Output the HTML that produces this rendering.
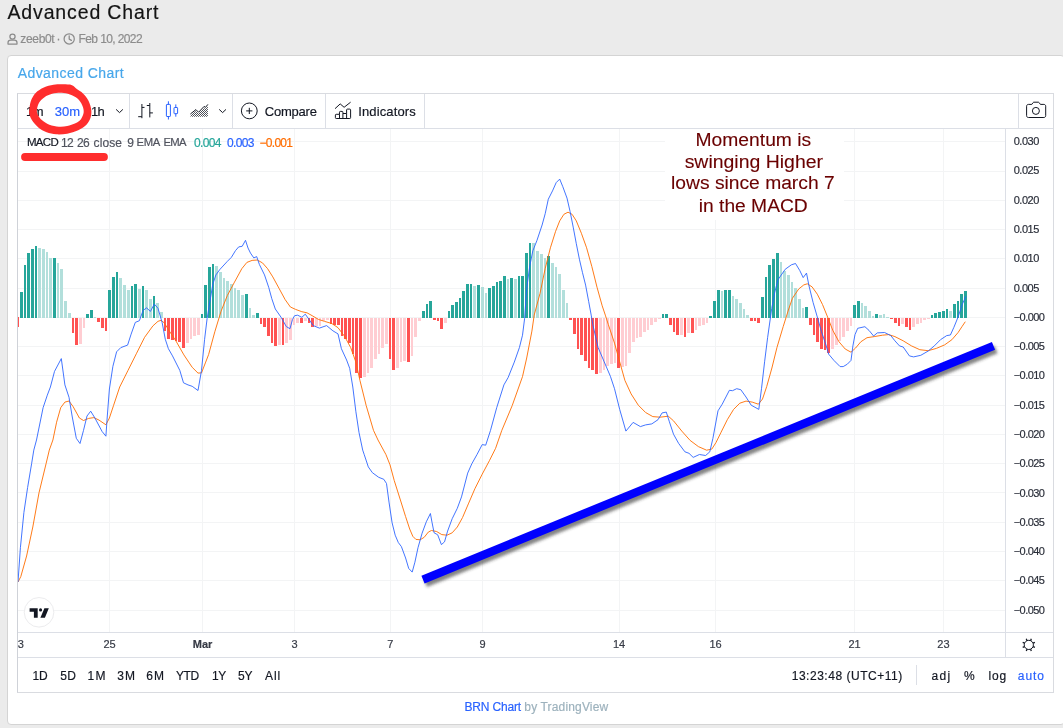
<!DOCTYPE html><html lang="en"><head><meta charset="utf-8"><title>Advanced Chart</title><style>
*{box-sizing:border-box;margin:0;padding:0}
html,body{width:1063px;height:728px;overflow:hidden;background:#ebebeb;font-family:"Liberation Sans",sans-serif}
.t{position:absolute;line-height:1;white-space:nowrap}
.ttl{-webkit-text-stroke:0.3px #141414}
.card{position:absolute;left:7px;top:55px;width:1058px;height:670px;background:#fff;border:1px solid #d4d4d4;border-radius:4px}
.widget{position:absolute;left:17px;top:93px;width:1037px;height:600px;border:1px solid #d9dbe0;border-left-color:#cfd2d8;background:#fff}
.hl{position:absolute;background:#dcdfe6;height:1px}
.vl{position:absolute;background:#dcdfe6;width:1px}
.chart{position:absolute;left:0;top:0}
.t{-webkit-text-stroke:0.18px currentColor}
h1,h2{font-weight:400;font-size:inherit;display:contents}
</style></head><body>
<h1><span class="t ttl" style="left:7.50px;top:3.09px;font-size:19.5px;color:#141414;letter-spacing:0.856px;">Advanced Chart</span></h1>
<span class="t" style="left:20.30px;top:32.74px;font-size:12px;color:#8c8c8c;letter-spacing:-0.330px;">zeeb0t</span>
<span class="t" style="left:56.50px;top:32.74px;font-size:12px;color:#8c8c8c;">·</span>
<span class="t" style="left:78.60px;top:32.74px;font-size:12px;color:#8c8c8c;letter-spacing:-0.613px;">Feb 10, 2022</span>
<div class="card"></div>
<h2><span class="t" style="left:17.70px;top:65.65px;font-size:14px;color:#47a7eb;letter-spacing:0.436px;">Advanced Chart</span></h2>
<div class="widget"></div>
<div class="hl" style="left:18px;top:128px;width:1035px"></div>
<div class="hl" style="left:18px;top:632px;width:1035px"></div>
<div class="hl" style="left:18px;top:657px;width:1035px"></div>
<div class="vl" style="left:1005px;top:129px;height:528px"></div>
<div class="vl" style="left:129px;top:94px;height:34px"></div>
<div class="vl" style="left:232px;top:94px;height:34px"></div>
<div class="vl" style="left:325px;top:94px;height:34px"></div>
<div class="vl" style="left:424px;top:94px;height:34px"></div>
<div class="vl" style="left:1018px;top:94px;height:34px"></div>
<div class="vl" style="left:916px;top:665px;height:20px"></div>
<svg class="chart" width="1063" height="728" viewBox="0 0 1063 728">
<defs><clipPath id="cp"><rect x="18" y="129" width="987" height="503"/></clipPath><filter id="sh" x="-5%" y="-5%" width="110%" height="115%"><feGaussianBlur stdDeviation="1.8"/></filter></defs>
<g clip-path="url(#cp)">
<g stroke="#f3f4f5" stroke-width="1" shape-rendering="crispEdges">
<line x1="109.5" y1="129" x2="109.5" y2="632"/>
<line x1="202.5" y1="129" x2="202.5" y2="632"/>
<line x1="294.5" y1="129" x2="294.5" y2="632"/>
<line x1="390.5" y1="129" x2="390.5" y2="632"/>
<line x1="482.5" y1="129" x2="482.5" y2="632"/>
<line x1="619.5" y1="129" x2="619.5" y2="632"/>
<line x1="715.5" y1="129" x2="715.5" y2="632"/>
<line x1="854.5" y1="129" x2="854.5" y2="632"/>
<line x1="943.5" y1="129" x2="943.5" y2="632"/>
<line x1="18" y1="141.5" x2="1005" y2="141.5"/>
<line x1="18" y1="171.5" x2="1005" y2="171.5"/>
<line x1="18" y1="200.5" x2="1005" y2="200.5"/>
<line x1="18" y1="229.5" x2="1005" y2="229.5"/>
<line x1="18" y1="258.5" x2="1005" y2="258.5"/>
<line x1="18" y1="288.5" x2="1005" y2="288.5"/>
<line x1="18" y1="317.5" x2="1005" y2="317.5"/>
<line x1="18" y1="346.5" x2="1005" y2="346.5"/>
<line x1="18" y1="375.5" x2="1005" y2="375.5"/>
<line x1="18" y1="405.5" x2="1005" y2="405.5"/>
<line x1="18" y1="434.5" x2="1005" y2="434.5"/>
<line x1="18" y1="463.5" x2="1005" y2="463.5"/>
<line x1="18" y1="492.5" x2="1005" y2="492.5"/>
<line x1="18" y1="522.5" x2="1005" y2="522.5"/>
<line x1="18" y1="551.5" x2="1005" y2="551.5"/>
<line x1="18" y1="580.5" x2="1005" y2="580.5"/>
<line x1="18" y1="610.5" x2="1005" y2="610.5"/>
</g>
<rect x="665" y="129" width="179" height="91" fill="#fff"/>
<g shape-rendering="crispEdges">
<rect x="18" y="317" width="1" height="10" fill="#ff5252"/>
<rect x="20" y="292.2" width="3" height="25.3" fill="#26a69a"/>
<rect x="24" y="265.3" width="2" height="52.2" fill="#26a69a"/>
<rect x="27" y="253.3" width="3" height="64.2" fill="#26a69a"/>
<rect x="31" y="249.2" width="3" height="68.3" fill="#26a69a"/>
<rect x="35" y="245.5" width="2" height="72.0" fill="#26a69a"/>
<rect x="38" y="247.5" width="3" height="70.0" fill="#b2dfdb"/>
<rect x="42" y="249.2" width="3" height="68.3" fill="#b2dfdb"/>
<rect x="46" y="251.9" width="2" height="65.6" fill="#b2dfdb"/>
<rect x="49" y="258.1" width="3" height="59.4" fill="#b2dfdb"/>
<rect x="53" y="258.1" width="3" height="59.4" fill="#26a69a"/>
<rect x="57" y="263.3" width="2" height="54.2" fill="#b2dfdb"/>
<rect x="60" y="268.8" width="3" height="48.7" fill="#b2dfdb"/>
<rect x="64" y="300.5" width="3" height="17.0" fill="#b2dfdb"/>
<rect x="68" y="312.7" width="3" height="4.8" fill="#b2dfdb"/>
<rect x="72" y="317.5" width="2" height="15.5" fill="#ff5252"/>
<rect x="75" y="317.5" width="3" height="27.5" fill="#ff5252"/>
<rect x="79" y="317.5" width="3" height="26.5" fill="#ffcdd2"/>
<rect x="83" y="317.5" width="2" height="10.4" fill="#ffcdd2"/>
<rect x="86" y="313.8" width="3" height="3.7" fill="#26a69a"/>
<rect x="90" y="310.3" width="3" height="7.2" fill="#26a69a"/>
<rect x="94" y="316.7" width="2" height="0.8" fill="#b2dfdb"/>
<rect x="97" y="317.5" width="3" height="4.8" fill="#ff5252"/>
<rect x="101" y="317.5" width="3" height="10.4" fill="#ff5252"/>
<rect x="105" y="317.5" width="2" height="13.0" fill="#ff5252"/>
<rect x="108" y="290.2" width="3" height="27.3" fill="#26a69a"/>
<rect x="112" y="277.1" width="3" height="40.4" fill="#26a69a"/>
<rect x="116" y="272.4" width="2" height="45.1" fill="#26a69a"/>
<rect x="119" y="277.7" width="3" height="39.8" fill="#b2dfdb"/>
<rect x="123" y="285.0" width="3" height="32.5" fill="#b2dfdb"/>
<rect x="127" y="290.2" width="3" height="27.3" fill="#b2dfdb"/>
<rect x="131" y="286.0" width="2" height="31.5" fill="#26a69a"/>
<rect x="134" y="284.4" width="3" height="33.1" fill="#26a69a"/>
<rect x="138" y="289.1" width="3" height="28.4" fill="#b2dfdb"/>
<rect x="142" y="286.4" width="2" height="31.1" fill="#26a69a"/>
<rect x="145" y="290.2" width="3" height="27.3" fill="#b2dfdb"/>
<rect x="149" y="299.3" width="3" height="18.2" fill="#b2dfdb"/>
<rect x="153" y="296.4" width="2" height="21.1" fill="#26a69a"/>
<rect x="156" y="303.0" width="3" height="14.5" fill="#b2dfdb"/>
<rect x="160" y="311.9" width="3" height="5.6" fill="#b2dfdb"/>
<rect x="164" y="317.5" width="2" height="13.5" fill="#ff5252"/>
<rect x="167" y="317.5" width="3" height="21.1" fill="#ff5252"/>
<rect x="171" y="317.5" width="3" height="22.8" fill="#ff5252"/>
<rect x="175" y="317.5" width="2" height="23.8" fill="#ff5252"/>
<rect x="178" y="317.5" width="3" height="24.8" fill="#ff5252"/>
<rect x="182" y="317.5" width="3" height="30.0" fill="#ff5252"/>
<rect x="186" y="317.5" width="3" height="25.3" fill="#ffcdd2"/>
<rect x="190" y="317.5" width="2" height="21.1" fill="#ffcdd2"/>
<rect x="193" y="317.5" width="3" height="18.6" fill="#ffcdd2"/>
<rect x="197" y="317.5" width="3" height="17.2" fill="#ffcdd2"/>
<rect x="201" y="313.8" width="2" height="3.7" fill="#26a69a"/>
<rect x="204" y="285.0" width="3" height="32.5" fill="#26a69a"/>
<rect x="208" y="267.4" width="3" height="50.1" fill="#26a69a"/>
<rect x="212" y="264.3" width="2" height="53.2" fill="#26a69a"/>
<rect x="215" y="266.2" width="3" height="51.3" fill="#b2dfdb"/>
<rect x="219" y="272.0" width="3" height="45.5" fill="#b2dfdb"/>
<rect x="223" y="278.2" width="2" height="39.3" fill="#b2dfdb"/>
<rect x="226" y="281.3" width="3" height="36.2" fill="#b2dfdb"/>
<rect x="230" y="284.4" width="3" height="33.1" fill="#b2dfdb"/>
<rect x="234" y="287.7" width="2" height="29.8" fill="#b2dfdb"/>
<rect x="237" y="289.8" width="3" height="27.7" fill="#b2dfdb"/>
<rect x="241" y="295.3" width="3" height="22.2" fill="#b2dfdb"/>
<rect x="245" y="293.9" width="3" height="23.6" fill="#26a69a"/>
<rect x="249" y="308.4" width="2" height="9.1" fill="#b2dfdb"/>
<rect x="252" y="314.6" width="3" height="2.9" fill="#b2dfdb"/>
<rect x="256" y="313.4" width="3" height="4.1" fill="#26a69a"/>
<rect x="260" y="317.5" width="2" height="6.2" fill="#ff5252"/>
<rect x="263" y="317.5" width="3" height="9.9" fill="#ff5252"/>
<rect x="267" y="317.5" width="3" height="18.2" fill="#ff5252"/>
<rect x="271" y="317.5" width="2" height="25.5" fill="#ff5252"/>
<rect x="274" y="317.5" width="3" height="28.2" fill="#ff5252"/>
<rect x="278" y="317.5" width="3" height="27.5" fill="#ffcdd2"/>
<rect x="282" y="317.5" width="2" height="27.1" fill="#ff5252"/>
<rect x="285" y="317.5" width="3" height="25.9" fill="#ffcdd2"/>
<rect x="289" y="317.5" width="3" height="22.4" fill="#ffcdd2"/>
<rect x="293" y="317.5" width="2" height="7.5" fill="#ffcdd2"/>
<rect x="296" y="317.5" width="3" height="5.8" fill="#ffcdd2"/>
<rect x="300" y="317.5" width="3" height="5.8" fill="#ff5252"/>
<rect x="304" y="317.5" width="3" height="3.7" fill="#ffcdd2"/>
<rect x="308" y="317.5" width="2" height="5.8" fill="#ff5252"/>
<rect x="311" y="317.5" width="3" height="9.3" fill="#ff5252"/>
<rect x="315" y="317.5" width="3" height="8.3" fill="#ffcdd2"/>
<rect x="319" y="317.5" width="2" height="8.9" fill="#ffcdd2"/>
<rect x="322" y="317.5" width="3" height="3.7" fill="#ffcdd2"/>
<rect x="326" y="317.5" width="3" height="2.7" fill="#ffcdd2"/>
<rect x="330" y="317.5" width="2" height="6.2" fill="#ff5252"/>
<rect x="333" y="317.5" width="3" height="7.5" fill="#ff5252"/>
<rect x="337" y="317.5" width="3" height="7.9" fill="#ff5252"/>
<rect x="341" y="317.5" width="2" height="18.2" fill="#ff5252"/>
<rect x="344" y="317.5" width="3" height="21.3" fill="#ff5252"/>
<rect x="348" y="317.5" width="3" height="25.5" fill="#ff5252"/>
<rect x="352" y="317.5" width="2" height="36.9" fill="#ff5252"/>
<rect x="355" y="317.5" width="3" height="55.1" fill="#ff5252"/>
<rect x="359" y="317.5" width="3" height="60.7" fill="#ff5252"/>
<rect x="363" y="317.5" width="3" height="59.2" fill="#ffcdd2"/>
<rect x="367" y="317.5" width="2" height="55.5" fill="#ffcdd2"/>
<rect x="370" y="317.5" width="3" height="50.3" fill="#ffcdd2"/>
<rect x="374" y="317.5" width="3" height="41.4" fill="#ffcdd2"/>
<rect x="378" y="317.5" width="2" height="36.2" fill="#ffcdd2"/>
<rect x="381" y="317.5" width="3" height="30.2" fill="#ffcdd2"/>
<rect x="385" y="317.5" width="3" height="26.9" fill="#ffcdd2"/>
<rect x="389" y="317.5" width="2" height="41.4" fill="#ff5252"/>
<rect x="392" y="317.5" width="3" height="52.4" fill="#ff5252"/>
<rect x="396" y="317.5" width="3" height="50.9" fill="#ffcdd2"/>
<rect x="400" y="317.5" width="2" height="44.1" fill="#ffcdd2"/>
<rect x="403" y="317.5" width="3" height="43.1" fill="#ffcdd2"/>
<rect x="407" y="317.5" width="3" height="44.5" fill="#ff5252"/>
<rect x="411" y="317.5" width="2" height="38.5" fill="#ffcdd2"/>
<rect x="414" y="317.5" width="3" height="19.9" fill="#ffcdd2"/>
<rect x="418" y="317.5" width="3" height="3.7" fill="#ffcdd2"/>
<rect x="422" y="310.5" width="3" height="7.0" fill="#26a69a"/>
<rect x="426" y="304.0" width="2" height="13.5" fill="#26a69a"/>
<rect x="429" y="300.5" width="3" height="17.0" fill="#26a69a"/>
<rect x="433" y="317.5" width="3" height="2.1" fill="#ff5252"/>
<rect x="437" y="317.5" width="2" height="3.1" fill="#ff5252"/>
<rect x="440" y="317.5" width="3" height="11.0" fill="#ff5252"/>
<rect x="444" y="317.5" width="3" height="5.2" fill="#ffcdd2"/>
<rect x="448" y="311.3" width="2" height="6.2" fill="#26a69a"/>
<rect x="451" y="305.1" width="3" height="12.4" fill="#26a69a"/>
<rect x="455" y="301.6" width="3" height="15.9" fill="#26a69a"/>
<rect x="459" y="297.8" width="2" height="19.7" fill="#26a69a"/>
<rect x="462" y="290.6" width="3" height="26.9" fill="#26a69a"/>
<rect x="466" y="284.4" width="3" height="33.1" fill="#26a69a"/>
<rect x="470" y="284.4" width="2" height="33.1" fill="#26a69a"/>
<rect x="473" y="286.0" width="3" height="31.5" fill="#b2dfdb"/>
<rect x="477" y="285.4" width="3" height="32.1" fill="#26a69a"/>
<rect x="481" y="287.1" width="3" height="30.4" fill="#b2dfdb"/>
<rect x="485" y="293.3" width="2" height="24.2" fill="#b2dfdb"/>
<rect x="488" y="288.1" width="3" height="29.4" fill="#26a69a"/>
<rect x="492" y="285.6" width="3" height="31.9" fill="#26a69a"/>
<rect x="496" y="281.9" width="2" height="35.6" fill="#26a69a"/>
<rect x="499" y="280.9" width="3" height="36.6" fill="#26a69a"/>
<rect x="503" y="276.3" width="3" height="41.2" fill="#26a69a"/>
<rect x="507" y="279.2" width="2" height="38.3" fill="#b2dfdb"/>
<rect x="510" y="278.2" width="3" height="39.3" fill="#26a69a"/>
<rect x="514" y="279.2" width="3" height="38.3" fill="#b2dfdb"/>
<rect x="518" y="276.3" width="2" height="41.2" fill="#26a69a"/>
<rect x="521" y="276.3" width="3" height="41.2" fill="#26a69a"/>
<rect x="525" y="252.9" width="3" height="64.6" fill="#26a69a"/>
<rect x="529" y="242.6" width="2" height="74.9" fill="#26a69a"/>
<rect x="532" y="243.2" width="3" height="74.3" fill="#b2dfdb"/>
<rect x="536" y="251.2" width="3" height="66.3" fill="#b2dfdb"/>
<rect x="540" y="253.9" width="3" height="63.6" fill="#b2dfdb"/>
<rect x="544" y="257.7" width="2" height="59.8" fill="#b2dfdb"/>
<rect x="547" y="255.6" width="3" height="61.9" fill="#26a69a"/>
<rect x="551" y="262.8" width="3" height="54.7" fill="#b2dfdb"/>
<rect x="555" y="266.8" width="2" height="50.7" fill="#b2dfdb"/>
<rect x="558" y="273.6" width="3" height="43.9" fill="#b2dfdb"/>
<rect x="562" y="289.8" width="3" height="27.7" fill="#b2dfdb"/>
<rect x="566" y="303.2" width="2" height="14.3" fill="#b2dfdb"/>
<rect x="569" y="317.5" width="3" height="2.1" fill="#ff5252"/>
<rect x="573" y="317.5" width="3" height="16.1" fill="#ff5252"/>
<rect x="577" y="317.5" width="2" height="31.7" fill="#ff5252"/>
<rect x="580" y="317.5" width="3" height="37.9" fill="#ff5252"/>
<rect x="584" y="317.5" width="3" height="43.5" fill="#ff5252"/>
<rect x="588" y="317.5" width="2" height="50.3" fill="#ff5252"/>
<rect x="591" y="317.5" width="3" height="52.4" fill="#ff5252"/>
<rect x="595" y="317.5" width="3" height="56.5" fill="#ff5252"/>
<rect x="599" y="317.5" width="3" height="55.5" fill="#ffcdd2"/>
<rect x="603" y="317.5" width="2" height="52.4" fill="#ffcdd2"/>
<rect x="606" y="317.5" width="3" height="48.2" fill="#ffcdd2"/>
<rect x="610" y="317.5" width="3" height="46.2" fill="#ffcdd2"/>
<rect x="614" y="317.5" width="2" height="45.1" fill="#ffcdd2"/>
<rect x="617" y="317.5" width="3" height="50.3" fill="#ff5252"/>
<rect x="621" y="317.5" width="3" height="49.3" fill="#ffcdd2"/>
<rect x="625" y="317.5" width="2" height="48.2" fill="#ffcdd2"/>
<rect x="628" y="317.5" width="3" height="35.2" fill="#ffcdd2"/>
<rect x="632" y="317.5" width="3" height="24.4" fill="#ffcdd2"/>
<rect x="636" y="317.5" width="2" height="20.9" fill="#ffcdd2"/>
<rect x="639" y="317.5" width="3" height="19.3" fill="#ffcdd2"/>
<rect x="643" y="317.5" width="3" height="14.5" fill="#ffcdd2"/>
<rect x="647" y="317.5" width="2" height="12.0" fill="#ffcdd2"/>
<rect x="650" y="317.5" width="3" height="7.9" fill="#ffcdd2"/>
<rect x="654" y="317.5" width="3" height="4.3" fill="#ffcdd2"/>
<rect x="658" y="317.5" width="3" height="1.7" fill="#ffcdd2"/>
<rect x="662" y="313.6" width="2" height="3.9" fill="#26a69a"/>
<rect x="665" y="313.6" width="3" height="3.9" fill="#26a69a"/>
<rect x="669" y="317.5" width="3" height="7.5" fill="#ff5252"/>
<rect x="673" y="317.5" width="2" height="14.5" fill="#ff5252"/>
<rect x="676" y="317.5" width="3" height="17.2" fill="#ff5252"/>
<rect x="680" y="317.5" width="3" height="17.2" fill="#ffcdd2"/>
<rect x="684" y="317.5" width="2" height="19.3" fill="#ff5252"/>
<rect x="687" y="317.5" width="3" height="15.7" fill="#ffcdd2"/>
<rect x="691" y="317.5" width="3" height="15.1" fill="#ff5252"/>
<rect x="695" y="317.5" width="2" height="12.0" fill="#ffcdd2"/>
<rect x="698" y="317.5" width="3" height="8.9" fill="#ffcdd2"/>
<rect x="702" y="317.5" width="3" height="7.2" fill="#ffcdd2"/>
<rect x="706" y="317.5" width="2" height="5.4" fill="#ffcdd2"/>
<rect x="709" y="316.3" width="3" height="1.2" fill="#26a69a"/>
<rect x="713" y="300.5" width="3" height="17.0" fill="#26a69a"/>
<rect x="717" y="289.5" width="3" height="28.0" fill="#26a69a"/>
<rect x="721" y="290.6" width="2" height="26.9" fill="#b2dfdb"/>
<rect x="724" y="289.5" width="3" height="28.0" fill="#26a69a"/>
<rect x="728" y="289.5" width="3" height="28.0" fill="#26a69a"/>
<rect x="732" y="296.0" width="2" height="21.5" fill="#b2dfdb"/>
<rect x="735" y="298.5" width="3" height="19.0" fill="#b2dfdb"/>
<rect x="739" y="303.2" width="3" height="14.3" fill="#b2dfdb"/>
<rect x="743" y="309.4" width="2" height="8.1" fill="#b2dfdb"/>
<rect x="746" y="314.6" width="3" height="2.9" fill="#b2dfdb"/>
<rect x="750" y="317.5" width="3" height="3.1" fill="#ff5252"/>
<rect x="754" y="317.5" width="2" height="3.7" fill="#ff5252"/>
<rect x="757" y="317.5" width="3" height="5.8" fill="#ff5252"/>
<rect x="761" y="297.4" width="3" height="20.1" fill="#26a69a"/>
<rect x="765" y="277.3" width="2" height="40.2" fill="#26a69a"/>
<rect x="768" y="265.3" width="3" height="52.2" fill="#26a69a"/>
<rect x="772" y="258.5" width="3" height="59.0" fill="#26a69a"/>
<rect x="776" y="252.9" width="3" height="64.6" fill="#26a69a"/>
<rect x="780" y="261.8" width="2" height="55.7" fill="#b2dfdb"/>
<rect x="783" y="270.5" width="3" height="47.0" fill="#b2dfdb"/>
<rect x="787" y="275.3" width="3" height="42.2" fill="#b2dfdb"/>
<rect x="791" y="281.5" width="2" height="36.0" fill="#b2dfdb"/>
<rect x="794" y="287.7" width="3" height="29.8" fill="#b2dfdb"/>
<rect x="798" y="298.5" width="3" height="19.0" fill="#b2dfdb"/>
<rect x="802" y="308.4" width="2" height="9.1" fill="#b2dfdb"/>
<rect x="805" y="306.7" width="3" height="10.8" fill="#26a69a"/>
<rect x="809" y="317.5" width="3" height="7.2" fill="#ff5252"/>
<rect x="813" y="317.5" width="2" height="17.2" fill="#ff5252"/>
<rect x="816" y="317.5" width="3" height="24.4" fill="#ff5252"/>
<rect x="820" y="317.5" width="3" height="31.7" fill="#ff5252"/>
<rect x="824" y="317.5" width="2" height="32.7" fill="#ff5252"/>
<rect x="827" y="317.5" width="3" height="35.2" fill="#ff5252"/>
<rect x="831" y="317.5" width="3" height="31.7" fill="#ffcdd2"/>
<rect x="835" y="317.5" width="3" height="27.5" fill="#ffcdd2"/>
<rect x="839" y="317.5" width="2" height="23.4" fill="#ffcdd2"/>
<rect x="842" y="317.5" width="3" height="19.9" fill="#ffcdd2"/>
<rect x="846" y="317.5" width="3" height="13.5" fill="#ffcdd2"/>
<rect x="850" y="317.5" width="2" height="8.9" fill="#ffcdd2"/>
<rect x="853" y="305.1" width="3" height="12.4" fill="#26a69a"/>
<rect x="857" y="300.5" width="3" height="17.0" fill="#26a69a"/>
<rect x="861" y="303.2" width="2" height="14.3" fill="#b2dfdb"/>
<rect x="864" y="305.7" width="3" height="11.8" fill="#b2dfdb"/>
<rect x="868" y="311.3" width="3" height="6.2" fill="#b2dfdb"/>
<rect x="872" y="316.1" width="2" height="1.4" fill="#b2dfdb"/>
<rect x="875" y="314.4" width="3" height="3.1" fill="#26a69a"/>
<rect x="879" y="314.6" width="3" height="2.9" fill="#b2dfdb"/>
<rect x="883" y="314.4" width="2" height="3.1" fill="#b2dfdb"/>
<rect x="886" y="316.7" width="3" height="0.8" fill="#b2dfdb"/>
<rect x="890" y="317.5" width="3" height="1.7" fill="#ff5252"/>
<rect x="894" y="317.5" width="3" height="5.2" fill="#ff5252"/>
<rect x="898" y="317.5" width="2" height="8.5" fill="#ff5252"/>
<rect x="901" y="317.5" width="3" height="6.2" fill="#ffcdd2"/>
<rect x="905" y="317.5" width="3" height="9.5" fill="#ff5252"/>
<rect x="909" y="317.5" width="2" height="12.4" fill="#ff5252"/>
<rect x="912" y="317.5" width="3" height="9.9" fill="#ffcdd2"/>
<rect x="916" y="317.5" width="3" height="6.8" fill="#ffcdd2"/>
<rect x="920" y="317.5" width="2" height="5.2" fill="#ffcdd2"/>
<rect x="923" y="317.5" width="3" height="2.7" fill="#ffcdd2"/>
<rect x="927" y="317.5" width="3" height="1.0" fill="#ffcdd2"/>
<rect x="931" y="315.4" width="2" height="2.1" fill="#26a69a"/>
<rect x="934" y="313.4" width="3" height="4.1" fill="#26a69a"/>
<rect x="938" y="311.5" width="3" height="6.0" fill="#26a69a"/>
<rect x="942" y="310.5" width="3" height="7.0" fill="#26a69a"/>
<rect x="946" y="309.4" width="2" height="8.1" fill="#26a69a"/>
<rect x="949" y="310.5" width="3" height="7.0" fill="#b2dfdb"/>
<rect x="953" y="304.0" width="3" height="13.5" fill="#26a69a"/>
<rect x="957" y="300.5" width="2" height="17.0" fill="#26a69a"/>
<rect x="960" y="294.3" width="3" height="23.2" fill="#26a69a"/>
<rect x="964" y="291.4" width="3" height="26.1" fill="#26a69a"/>
</g>
<polyline points="18.0,582.0 20.8,576.6 26.6,556.0 32.8,527.0 39.0,492.8 46.2,463.2 49.3,450.1 52.9,440.0 56.6,422.2 60.7,407.7 64.9,402.1 69.0,401.0 73.1,406.6 79.4,418.0 83.5,420.5 88.7,418.4 93.9,417.6 99.0,420.1 105.9,424.8 109.4,418.0 113.5,405.6 119.7,387.0 128.0,370.4 136.3,353.8 144.6,337.3 152.9,325.9 158.0,321.3 161.1,320.3 164.2,322.8 169.4,331.1 175.6,340.4 183.9,354.9 192.2,367.3 198.0,373.1 201.5,372.9 205.7,362.1 208.6,354.6 214.8,331.8 221.1,311.1 227.3,295.6 234.5,282.1 241.8,268.7 246.9,262.4 252.1,260.4 257.3,260.0 262.5,262.9 267.6,268.7 272.8,276.9 279.0,288.3 285.2,299.7 290.4,307.0 295.6,309.4 301.8,311.7 307.0,312.8 312.2,315.7 318.4,319.4 324.6,321.4 331.8,323.5 338.0,327.7 344.5,336.2 350.7,347.6 355.9,362.1 360.0,380.7 366.2,405.6 373.5,430.4 378.0,440.0 385.9,454.5 390.0,464.8 394.2,480.4 400.4,500.0 405.6,516.6 409.7,529.0 412.8,536.3 415.9,539.4 420.1,539.8 424.2,537.3 428.3,532.1 431.4,530.5 436.6,531.5 441.8,534.6 447.0,535.2 452.2,532.8 457.3,527.0 462.5,517.6 468.7,503.1 474.9,488.7 482.2,474.2 489.4,460.7 495.6,448.3 501.8,430.4 512.2,405.6 522.5,376.6 526.7,358.0 531.9,331.1 534.2,315.1 540.0,293.4 545.2,268.5 550.4,247.8 555.6,231.3 559.7,220.9 563.9,214.3 568.0,212.2 572.1,214.3 576.3,220.9 581.4,233.3 586.6,247.8 591.8,266.4 597.0,287.2 602.2,305.8 605.3,315.1 608.3,324.5 614.5,343.1 619.7,361.8 624.9,380.4 631.1,393.9 638.3,405.2 645.6,412.5 652.8,416.6 660.1,417.2 668.3,416.2 673.5,420.8 681.8,431.1 690.1,440.4 698.4,446.6 706.6,450.2 711.8,449.1 716.0,442.5 721.1,432.2 727.3,419.7 733.6,409.4 739.8,403.2 746.0,401.1 752.2,402.1 758.4,404.2 762.5,399.0 766.7,386.6 771.9,368.0 777.0,347.3 783.2,326.6 788.4,310.0 792.4,298.3 798.7,289.0 803.8,284.9 807.3,283.8 812.1,286.9 817.3,294.2 822.5,304.5 827.6,317.0 832.8,330.4 839.0,341.8 845.2,349.0 851.0,352.2 855.6,348.0 860.8,341.8 867.0,337.7 874.2,336.6 882.5,335.2 888.7,334.6 894.9,336.6 903.2,340.8 911.5,345.9 919.8,349.7 928.1,350.7 936.3,348.4 944.6,344.9 951.9,339.7 958.1,332.5 962.2,326.3 965.3,321.7" fill="none" stroke="#ff6d00" stroke-width="1" stroke-opacity="0.9" stroke-linejoin="round"/>
<polyline points="18.0,582.0 20.4,547.7 23.9,512.5 27.6,487.6 31.7,463.2 33.8,450.1 36.5,440.0 43.1,407.7 47.3,395.2 50.4,387.0 54.5,371.4 61.3,358.6 64.9,384.9 69.0,397.3 72.1,416.0 76.3,438.3 80.0,443.5 83.5,430.4 87.0,416.0 90.7,411.2 94.9,418.0 102.1,431.5 105.9,436.2 107.3,416.0 109.4,389.0 112.9,366.3 116.6,351.8 120.8,347.6 127.6,345.1 131.1,334.2 135.3,322.4 139.4,320.7 143.1,310.4 146.6,307.9 150.4,311.4 154.3,304.1 158.0,308.3 162.2,322.8 165.3,339.3 168.4,348.7 172.5,355.9 179.8,370.4 183.5,382.8 188.0,384.9 192.2,386.3 198.0,390.5 201.5,370.4 204.6,339.3 207.1,318.6 209.7,302.8 212.8,284.2 215.9,274.9 220.0,269.3 227.3,261.4 231.4,257.3 235.5,250.6 238.7,246.9 242.2,246.3 245.5,240.3 248.0,248.0 250.5,253.1 253.8,257.9 256.7,256.6 259.4,264.5 264.5,274.9 268.7,287.3 271.8,298.7 275.3,309.0 281.1,317.3 286.3,326.6 290.0,328.7 292.5,319.4 294.6,315.7 297.7,315.2 301.8,317.3 305.3,314.2 309.0,319.4 313.2,325.6 319.4,328.1 326.6,325.6 332.9,330.8 338.0,333.9 341.4,348.7 346.6,360.0 349.7,368.3 352.8,387.0 355.9,411.8 359.0,432.5 362.7,450.1 364.2,454.5 368.3,466.9 372.4,472.7 378.7,477.3 383.8,479.3 386.5,483.5 389.0,502.1 392.1,522.8 395.2,535.2 398.3,542.5 401.4,546.6 405.6,558.0 408.7,568.4 412.2,572.1 414.9,562.2 418.0,547.7 422.1,533.2 426.3,521.8 430.4,513.5 432.1,522.8 434.1,532.8 437.7,534.8 441.4,544.6 444.5,541.9 447.6,531.1 452.2,518.7 457.3,508.3 461.5,496.9 467.7,473.1 471.8,463.8 477.0,454.5 482.2,444.6 485.7,445.2 490.5,430.4 496.7,407.7 503.9,384.9 508.1,377.6 514.3,362.1 519.4,347.6 522.5,335.2 524.6,318.6 526.6,289.2 529.7,266.4 532.8,250.9 536.9,240.6 542.1,225.0 545.2,213.7 548.3,199.2 552.5,190.9 556.2,182.6 559.7,179.1 562.8,186.7 567.0,198.1 570.1,211.6 573.2,227.1 576.3,243.7 579.4,259.2 582.5,272.7 585.6,285.1 588.7,301.6 591.2,315.1 592.8,324.5 598.0,347.3 604.2,361.8 610.4,376.3 614.5,388.7 619.7,409.4 625.9,431.1 633.1,422.4 640.4,426.6 645.6,424.9 651.8,423.9 658.0,419.7 662.1,412.9 666.3,412.1 669.4,421.8 673.5,434.2 678.7,443.5 684.9,451.8 689.0,453.3 693.2,457.4 699.4,454.5 705.6,455.5 709.8,451.8 712.9,438.4 718.0,410.8 722.2,404.2 729.4,390.3 732.5,390.7 736.7,388.7 740.8,389.7 746.0,397.0 751.2,405.2 758.8,409.4 761.5,388.7 764.6,361.8 767.6,337.7 771.7,308.7 774.8,292.1 778.0,279.7 785.2,269.3 791.4,264.8 795.5,263.5 799.7,270.4 803.2,277.6 806.5,273.1 809.0,285.9 813.1,302.5 817.3,317.0 821.4,331.4 825.6,343.9 828.7,354.2 833.9,360.4 840.1,366.6 843.2,366.6 847.3,364.2 851.0,360.4 852.9,345.9 855.0,334.6 857.7,328.3 864.9,326.7 869.0,330.4 873.6,336.0 877.3,332.9 884.6,332.5 890.8,335.6 894.9,340.8 899.5,345.9 903.2,347.0 909.4,355.9 913.6,356.9 920.8,355.3 928.1,351.1 934.3,345.9 940.5,339.7 946.7,335.6 950.4,335.0 953.9,327.3 958.1,317.0 962.2,304.5 965.9,296.3" fill="none" stroke="#2962ff" stroke-width="1" stroke-opacity="0.88" stroke-linejoin="round"/>
<line x1="425.5" y1="583.2" x2="996" y2="349.5" stroke="#333" stroke-opacity="0.6" stroke-width="8.3" filter="url(#sh)"/>
<line x1="423" y1="579.55" x2="993.5" y2="345.85" stroke="#0000ff" stroke-width="8.3"/>
</g>
</svg>
<span class="t" style="left:26.00px;top:104.50px;font-size:13px;color:#131722;letter-spacing:-0.389px;">1m</span>
<span class="t" style="left:54.80px;top:104.50px;font-size:13px;color:#2962ff;letter-spacing:-0.010px;">30m</span>
<span class="t" style="left:91.10px;top:104.50px;font-size:13px;color:#131722;letter-spacing:-0.700px;">1h</span>
<span class="t" style="left:264.70px;top:104.90px;font-size:13px;color:#131722;letter-spacing:-0.199px;">Compare</span>
<span class="t" style="left:358.20px;top:104.90px;font-size:13px;color:#131722;letter-spacing:0.134px;">Indicators</span>
<span class="t" style="left:26.99px;top:136.97px;font-size:11.5px;color:#131722;letter-spacing:-0.700px;">MACD</span>
<span class="t" style="left:60.92px;top:136.54px;font-size:12px;color:#50535e;letter-spacing:-0.700px;">12</span>
<span class="t" style="left:77.02px;top:136.54px;font-size:12px;color:#50535e;letter-spacing:-0.700px;">26</span>
<span class="t" style="left:93.60px;top:136.54px;font-size:12px;color:#50535e;letter-spacing:0.067px;">close</span>
<span class="t" style="left:127.30px;top:136.54px;font-size:12px;color:#50535e;">9</span>
<span class="t" style="left:136.60px;top:137.13px;font-size:11.3px;color:#50535e;letter-spacing:-0.385px;">EMA</span>
<span class="t" style="left:163.40px;top:137.13px;font-size:11.3px;color:#50535e;letter-spacing:-0.635px;">EMA</span>
<span class="t" style="left:194.10px;top:136.54px;font-size:12px;color:#26a69a;letter-spacing:-0.662px;">0.004</span>
<span class="t" style="left:227.00px;top:136.54px;font-size:12px;color:#2962ff;letter-spacing:-0.662px;">0.003</span>
<span class="t" style="left:259.47px;top:136.54px;font-size:12px;color:#ff6d00;letter-spacing:-0.700px;">−0.001</span>
<span class="t" style="left:1013.70px;top:136.09px;font-size:11px;color:#2a2e39;letter-spacing:-0.459px;">0.030</span>
<span class="t" style="left:1013.70px;top:165.38px;font-size:11px;color:#2a2e39;letter-spacing:-0.459px;">0.025</span>
<span class="t" style="left:1013.70px;top:194.67px;font-size:11px;color:#2a2e39;letter-spacing:-0.459px;">0.020</span>
<span class="t" style="left:1013.70px;top:223.96px;font-size:11px;color:#2a2e39;letter-spacing:-0.459px;">0.015</span>
<span class="t" style="left:1013.70px;top:253.25px;font-size:11px;color:#2a2e39;letter-spacing:-0.459px;">0.010</span>
<span class="t" style="left:1013.70px;top:282.54px;font-size:11px;color:#2a2e39;letter-spacing:-0.459px;">0.005</span>
<span class="t" style="left:1013.70px;top:311.83px;font-size:11px;color:#2a2e39;letter-spacing:-0.552px;">−0.000</span>
<span class="t" style="left:1013.70px;top:341.12px;font-size:11px;color:#2a2e39;letter-spacing:-0.552px;">−0.005</span>
<span class="t" style="left:1013.70px;top:370.41px;font-size:11px;color:#2a2e39;letter-spacing:-0.552px;">−0.010</span>
<span class="t" style="left:1013.70px;top:399.70px;font-size:11px;color:#2a2e39;letter-spacing:-0.552px;">−0.015</span>
<span class="t" style="left:1013.70px;top:428.99px;font-size:11px;color:#2a2e39;letter-spacing:-0.552px;">−0.020</span>
<span class="t" style="left:1013.70px;top:458.28px;font-size:11px;color:#2a2e39;letter-spacing:-0.552px;">−0.025</span>
<span class="t" style="left:1013.70px;top:487.57px;font-size:11px;color:#2a2e39;letter-spacing:-0.552px;">−0.030</span>
<span class="t" style="left:1013.70px;top:516.86px;font-size:11px;color:#2a2e39;letter-spacing:-0.552px;">−0.035</span>
<span class="t" style="left:1013.70px;top:546.15px;font-size:11px;color:#2a2e39;letter-spacing:-0.552px;">−0.040</span>
<span class="t" style="left:1013.70px;top:575.44px;font-size:11px;color:#2a2e39;letter-spacing:-0.552px;">−0.045</span>
<span class="t" style="left:1013.70px;top:604.73px;font-size:11px;color:#2a2e39;letter-spacing:-0.552px;">−0.050</span>
<span class="t" style="left:103.48px;top:638.69px;font-size:11px;color:#363a45;">25</span>
<span class="t" style="left:192.72px;top:638.69px;font-size:11px;color:#363a45;font-weight:700;">Mar</span>
<span class="t" style="left:291.54px;top:638.69px;font-size:11px;color:#363a45;">3</span>
<span class="t" style="left:387.34px;top:638.69px;font-size:11px;color:#363a45;">7</span>
<span class="t" style="left:479.44px;top:638.69px;font-size:11px;color:#363a45;">9</span>
<span class="t" style="left:612.98px;top:638.69px;font-size:11px;color:#363a45;">14</span>
<span class="t" style="left:709.48px;top:638.69px;font-size:11px;color:#363a45;">16</span>
<span class="t" style="left:848.48px;top:638.69px;font-size:11px;color:#363a45;">21</span>
<span class="t" style="left:937.28px;top:638.69px;font-size:11px;color:#363a45;">23</span>
<span class="t" style="left:17.80px;top:638.69px;font-size:11px;color:#363a45;">3</span>
<span class="t" style="left:32.60px;top:669.64px;font-size:12px;color:#131722;letter-spacing:-0.260px;">1D</span>
<span class="t" style="left:60.30px;top:669.64px;font-size:12px;color:#131722;letter-spacing:0.240px;">5D</span>
<span class="t" style="left:87.50px;top:669.64px;font-size:12px;color:#131722;letter-spacing:1.210px;">1M</span>
<span class="t" style="left:117.30px;top:669.64px;font-size:12px;color:#131722;letter-spacing:0.910px;">3M</span>
<span class="t" style="left:146.20px;top:669.64px;font-size:12px;color:#131722;letter-spacing:1.210px;">6M</span>
<span class="t" style="left:176.00px;top:669.64px;font-size:12px;color:#131722;letter-spacing:-0.460px;">YTD</span>
<span class="t" style="left:212.00px;top:669.64px;font-size:12px;color:#131722;letter-spacing:-0.398px;">1Y</span>
<span class="t" style="left:238.00px;top:669.64px;font-size:12px;color:#131722;letter-spacing:-0.198px;">5Y</span>
<span class="t" style="left:265.00px;top:669.64px;font-size:12px;color:#131722;letter-spacing:0.872px;">All</span>
<span class="t" style="left:791.70px;top:669.64px;font-size:12px;color:#131722;letter-spacing:0.526px;">13:23:48 (UTC+11)</span>
<span class="t" style="left:931.40px;top:669.64px;font-size:12px;color:#131722;letter-spacing:1.383px;">adj</span>
<span class="t" style="left:964.00px;top:669.64px;font-size:12px;color:#131722;">%</span>
<span class="t" style="left:988.50px;top:669.64px;font-size:12px;color:#131722;letter-spacing:0.783px;">log</span>
<span class="t" style="left:1017.80px;top:669.64px;font-size:12px;color:#2962ff;letter-spacing:0.941px;">auto</span>
<span class="t" style="left:464.50px;top:701.44px;font-size:12px;color:#2962ff;letter-spacing:-0.179px;">BRN Chart</span>
<span class="t" style="left:524.30px;top:701.44px;font-size:12px;color:#9db2bd;letter-spacing:0.158px;">by TradingView</span>
<span class="t an" style="left:697.24px;top:130.79px;font-size:18.8px;color:#6a0000;-webkit-text-stroke:0.12px #6a0000;transform:scaleX(1.0255);transform-origin:50% 50%">Momentum is</span>
<span class="t an" style="left:686.87px;top:152.79px;font-size:18.8px;color:#6a0000;-webkit-text-stroke:0.12px #6a0000;transform:scaleX(1.0355);transform-origin:50% 50%">swinging Higher</span>
<span class="t an" style="left:672.92px;top:174.29px;font-size:18.8px;color:#6a0000;-webkit-text-stroke:0.12px #6a0000;transform:scaleX(1.0240);transform-origin:50% 50%">lows since march 7</span>
<span class="t an" style="left:699.77px;top:196.79px;font-size:18.8px;color:#6a0000;-webkit-text-stroke:0.12px #6a0000;transform:scaleX(1.0238);transform-origin:50% 50%">in the MACD</span>
<svg class="chart" width="1063" height="728" viewBox="0 0 1063 728">
<g fill="none" stroke="#8c8c8c" stroke-width="1.25"><circle cx="12.5" cy="36.6" r="2.6"/><path d="M8 44v-1.2c0-1.6 1.3-2.6 2.8-2.6h3.4c1.5 0 2.8 1 2.8 2.6V44z" stroke-linejoin="round"/></g>
<g fill="none" stroke="#8c8c8c" stroke-width="1.25"><circle cx="69.2" cy="38.9" r="5.1"/><path d="M69.2 35.8v3.3l2.2 1.3" stroke-linecap="round" stroke-linejoin="round"/></g>
<path d="M116.1 109.4l3.4 3.2 3.4-3.2" fill="none" stroke="#131722" stroke-width="1"/>
<path d="M219.2 109.4l3.4 3.2 3.4-3.2" fill="none" stroke="#131722" stroke-width="1"/>
<g fill="none" stroke="#131722" stroke-width="1"><path d="M141.9 104v14.2M138.2 116.7h3.7M141.9 107.4h2.6M149.8 103v14.4M146.8 105.5h3M149.8 112.9h3.1"/></g>
<g fill="none" stroke="#2962ff" stroke-width="1"><rect x="166.4" y="104.4" width="4" height="12.1" rx="0.6"/><path d="M168.4 101.3v3.1M168.4 116.5v3"/><rect x="174" y="107.5" width="3.6" height="6.2" rx="0.6"/><path d="M175.8 104.4v3.1M175.8 113.7v3"/></g>
<defs><pattern id="ht" width="2" height="2" patternUnits="userSpaceOnUse"><rect width="1" height="1" fill="#131722"/><rect x="1" y="1" width="1" height="1" fill="#131722"/></pattern></defs>
<path d="M190.4 116.7v-1.700l5.500-4 2.700 2.600 5.500-5.700 1.400 1 2.400-2.600v10.400z" fill="url(#ht)" opacity="0.75"/>
<path d="M190.4 114l5.5-4.4 2.7 2.7 5.5-5.9 1.4 1 2.4-3" fill="none" stroke="#131722" stroke-width="1"/>
<g fill="none" stroke="#131722" stroke-width="1"><circle cx="249.3" cy="110.9" r="7.9"/><path d="M246.2 110.9h6.2M249.3 107.8v6.2"/></g>
<g fill="none" stroke="#131722" stroke-width="1" stroke-linejoin="round"><path d="M335 108.7l5.2-4.8 3.900 3.400 6.500-5.100"/><path d="M335.400 117.700v-2.600q0-.8.800-.8h3.300v-2.100q0-.8.800-.8h1.800q.8 0 .8.800v1.300h3.700v-3.600q0-.8.800-.8h2.400q.8 0 .8.800v7.800q0 .8-.8.800h-13.600q-.8 0-.8-.8zM339.500 114.300v4.200M342.900 113.500v5M346.600 113.500v5"/></g>
<g fill="none" stroke="#131722" stroke-width="1"><path d="M1028.4 104.4h3.4l1.2-1.7c.3-.4.6-.5 1-.5h4.2c.4 0 .8.2 1 .5l1.2 1.7h3.5c1.1 0 1.8.8 1.8 1.8v9.5c0 1.100-.8 1.800-1.8 1.800h-15.500c-1.1 0-1.800-.8-1.800-1.800v-9.500c0-1.100.8-1.800 1.800-1.800z" stroke-linejoin="round"/><circle cx="1035.900" cy="110.900" r="3.500"/></g>
<circle cx="39.04" cy="612.3" r="14.8" fill="#fff" stroke="#ececee" stroke-width="1"/>
<path d="M29.6 608.2h8.1v9.6h-3.800v-6h-4.300z" fill="#131722"/><circle cx="40.55" cy="609.9" r="1.55" fill="#131722"/><path d="M44.4 608.2h4.400l-3.900 9.600h-4.500z" fill="#131722"/>
<g fill="none" stroke="#131722" stroke-width="1"><circle cx="1028.8" cy="644.9" r="4.6"/><path d="M1033.05 646.66L1034.90 647.43M1030.56 649.15L1031.33 651.00M1027.04 649.15L1026.27 651.00M1024.55 646.66L1022.70 647.43M1024.55 643.14L1022.70 642.37M1027.04 640.65L1026.27 638.80M1030.56 640.65L1031.33 638.80M1033.05 643.14L1034.90 642.37" stroke-width="1.3"/></g>
<path d="M29.42 109.59C29.65 107.49 29.77 104.10 30.80 101.35C31.83 98.60 33.43 95.40 35.60 93.11C37.78 90.82 40.87 88.99 43.85 87.62C46.82 86.24 50.26 85.42 53.46 84.87C56.67 84.32 59.99 84.27 63.08 84.32C66.17 84.36 69.72 84.36 72.01 85.14C74.29 85.92 74.98 87.62 76.81 88.99C78.64 90.36 81.05 91.44 82.99 93.38C84.94 95.33 87.12 97.96 88.49 100.66C89.86 103.37 90.89 106.73 91.24 109.59C91.58 112.46 91.35 115.32 90.55 117.84C89.75 120.35 88.49 122.64 86.43 124.70C84.37 126.76 81.39 128.71 78.19 130.20C74.98 131.69 70.86 132.95 67.20 133.63C63.53 134.32 59.64 134.55 56.21 134.32C52.77 134.09 49.57 133.40 46.59 132.26C43.62 131.11 40.76 129.40 38.35 127.45C35.95 125.50 33.66 122.83 32.17 120.58C30.68 118.34 29.88 115.82 29.42 113.99C28.97 112.16 29.19 111.70 29.42 109.59ZM37.66 114.40C38.47 116.12 39.84 118.18 41.79 119.90C43.73 121.61 46.48 123.56 49.34 124.70C52.20 125.85 55.98 126.53 58.96 126.76C61.93 126.99 64.45 126.65 67.20 126.08C69.95 125.50 73.15 124.47 75.44 123.33C77.73 122.18 79.56 121.04 80.93 119.21C82.31 117.38 83.45 114.63 83.68 112.34C83.91 110.05 83.34 107.76 82.31 105.47C81.28 103.18 79.56 100.44 77.50 98.60C75.44 96.77 72.58 95.45 69.95 94.48C67.31 93.52 64.68 92.95 61.70 92.84C58.73 92.72 54.95 93.06 52.09 93.80C49.23 94.53 46.71 95.74 44.53 97.23C42.36 98.72 40.30 100.66 39.04 102.73C37.78 104.79 37.21 107.65 36.98 109.59C36.75 111.54 36.86 112.68 37.66 114.40Z" fill="#ff2d2d" fill-rule="evenodd"/>
<line x1="25" y1="157" x2="104" y2="157" stroke="#ff2d2d" stroke-width="7.8" stroke-linecap="round"/>
</svg>
</body></html>
